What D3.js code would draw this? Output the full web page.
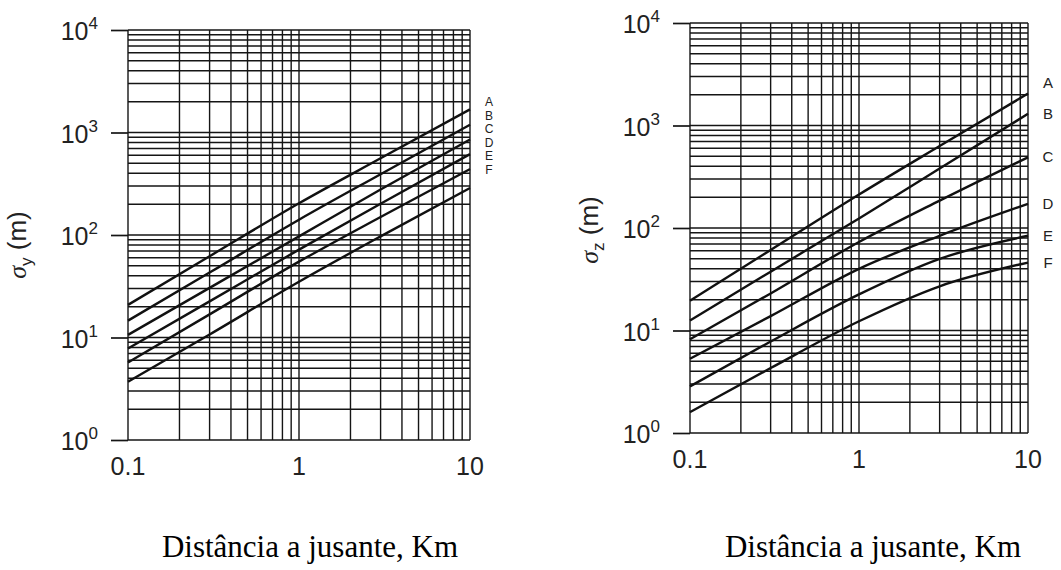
<!DOCTYPE html>
<html>
<head>
<meta charset="utf-8">
<script src="https://cdn.jsdelivr.net/npm/d3@7"></script>
<style>
  body { margin: 0; background: #fff; }
  svg { display: block; }
</style>
</head>
<body>
<svg id="chart" width="1061" height="570"></svg>
<script>
// ---- data ----
const distances = [0.1, 0.3, 1, 3, 10];            // km
const classes = ["A", "B", "C", "D", "E", "F"];
// sigma_y (m)
const sigmaY_A = [20.8, 62, 204, 560, 1680];
const sigmaY_B = [14.6, 43, 141, 392, 1190];
const sigmaY_C = [10.6, 30.5, 97, 278, 855];
const sigmaY_D = [7.8, 22.5, 72, 202, 615];
const sigmaY_E = [5.7, 16.8, 55, 150, 440];
const sigmaY_F = [3.7, 10.7, 35, 97, 287];
// sigma_z (m)
const sigmaZ_A = [19.5, 61, 212, 630, 2050];
const sigmaZ_B = [12.5, 37.5, 124, 380, 1300];
const sigmaZ_C = [8.2, 23, 73, 185, 490];
const sigmaZ_D = [5.3, 13.8, 40, 84, 172];
const sigmaZ_E = [2.85, 7.8, 22.5, 50, 84];
const sigmaZ_F = [1.6, 4.3, 12.3, 27, 46];
const xTickLabels = ["0.1", "1", "10"];
const yDecades = [0, 1, 2, 3, 4];
const xTitle = "Distância a jusante, Km";

const panels = [
  { sub: "y", series: [sigmaY_A, sigmaY_B, sigmaY_C, sigmaY_D, sigmaY_E, sigmaY_F],
    x0: 128, x1: 470, yt: 30, yb: 440, titleX: 26, titleY: 245, xTitleX: 310,
    labelMode: "stack", labelX: 489, labelY0: 106, labelStep: 13.6, labelSize: 12 },
  { sub: "z", series: [sigmaZ_A, sigmaZ_B, sigmaZ_C, sigmaZ_D, sigmaZ_E, sigmaZ_F],
    x0: 690, x1: 1028, yt: 23, yb: 433, titleX: 598, titleY: 230, xTitleX: 873,
    labelMode: "end", labelX: 1048, labelSize: 15 }
];

const svg = d3.select("#chart");
const ink = "#151515";

panels.forEach(p => {
  const x = d3.scaleLog().domain([0.1, 10]).range([p.x0, p.x1]);
  const y = d3.scaleLog().domain([1, 1e4]).range([p.yb, p.yt]);
  const g = svg.append("g");

  // horizontal grid
  g.append("g").selectAll("line").data(y.ticks()).join("line")
    .attr("x1", p.x0).attr("x2", p.x1)
    .attr("y1", d => y(d)).attr("y2", d => y(d))
    .attr("stroke", ink).attr("stroke-width", 1.5);
  // vertical grid
  g.append("g").selectAll("line").data(x.ticks()).join("line")
    .attr("x1", d => x(d)).attr("x2", d => x(d))
    .attr("y1", p.yt).attr("y2", p.yb)
    .attr("stroke", ink).attr("stroke-width", 1.4);

  // decade ticks (left axis)
  const yAxis = d3.axisLeft(y).tickValues(yDecades.map(k => Math.pow(10, k)))
    .tickSize(17).tickFormat("");
  const ya = g.append("g").attr("transform", `translate(${p.x0},0)`).call(yAxis);
  ya.select(".domain").remove();
  ya.selectAll(".tick line").attr("stroke", ink).attr("stroke-width", 1.7);

  // y tick labels 10^k
  const yl = g.append("g").selectAll("text").data(yDecades).join("text")
    .attr("x", p.x0 - 30).attr("y", d => y(Math.pow(10, d)) + 10)
    .attr("text-anchor", "end")
    .attr("font-family", "Liberation Sans, Arial, sans-serif")
    .attr("font-size", 25).attr("fill", "#222");
  yl.append("tspan").text("10");
  yl.append("tspan").attr("dy", -11).attr("font-size", 17).text(d => d);

  // x tick labels
  g.append("g").selectAll("text").data(xTickLabels).join("text")
    .attr("x", d => x(+d)).attr("y", p.yb + 35)
    .attr("text-anchor", "middle")
    .attr("font-family", "Liberation Sans, Arial, sans-serif")
    .attr("font-size", 25).attr("fill", "#222")
    .text(d => d);

  // curves
  const line = d3.line()
    .x((v, i) => x(distances[i]))
    .y(v => y(v))
    .curve(d3.curveMonotoneX);
  g.append("g").selectAll("path").data(p.series).join("path")
    .attr("d", line)
    .attr("fill", "none").attr("stroke", "#111").attr("stroke-width", 2.4);

  // class labels
  g.append("g").selectAll("text").data(classes).join("text")
    .attr("x", p.labelX)
    .attr("y", (c, i) => p.labelMode === "stack"
      ? p.labelY0 + i * p.labelStep
      : y(p.series[i][p.series[i].length - 1]) + 5 - (i === 0 ? 11 : 0))
    .attr("text-anchor", "middle")
    .attr("font-family", "Liberation Sans, Arial, sans-serif")
    .attr("font-size", p.labelSize).attr("fill", "#222")
    .text(c => c);

  // y title
  const t = g.append("text")
    .attr("transform", `translate(${p.titleX},${p.titleY}) rotate(-90)`)
    .attr("text-anchor", "middle")
    .attr("font-family", "Liberation Sans, Arial, sans-serif")
    .attr("font-size", 26).attr("fill", "#222");
  t.append("tspan").attr("font-family", "Liberation Serif, serif").attr("font-style", "italic").text("σ");
  t.append("tspan").attr("font-size", 17).attr("dy", 6).text(p.sub);
  t.append("tspan").attr("dy", -6).text(" (m)");

  // x title
  g.append("text")
    .attr("x", p.xTitleX).attr("y", 557)
    .attr("text-anchor", "middle")
    .attr("font-family", "Liberation Serif, Times New Roman, serif")
    .attr("font-size", 31).attr("fill", "#000")
    .text(xTitle);
});
</script>
</body>
</html>
